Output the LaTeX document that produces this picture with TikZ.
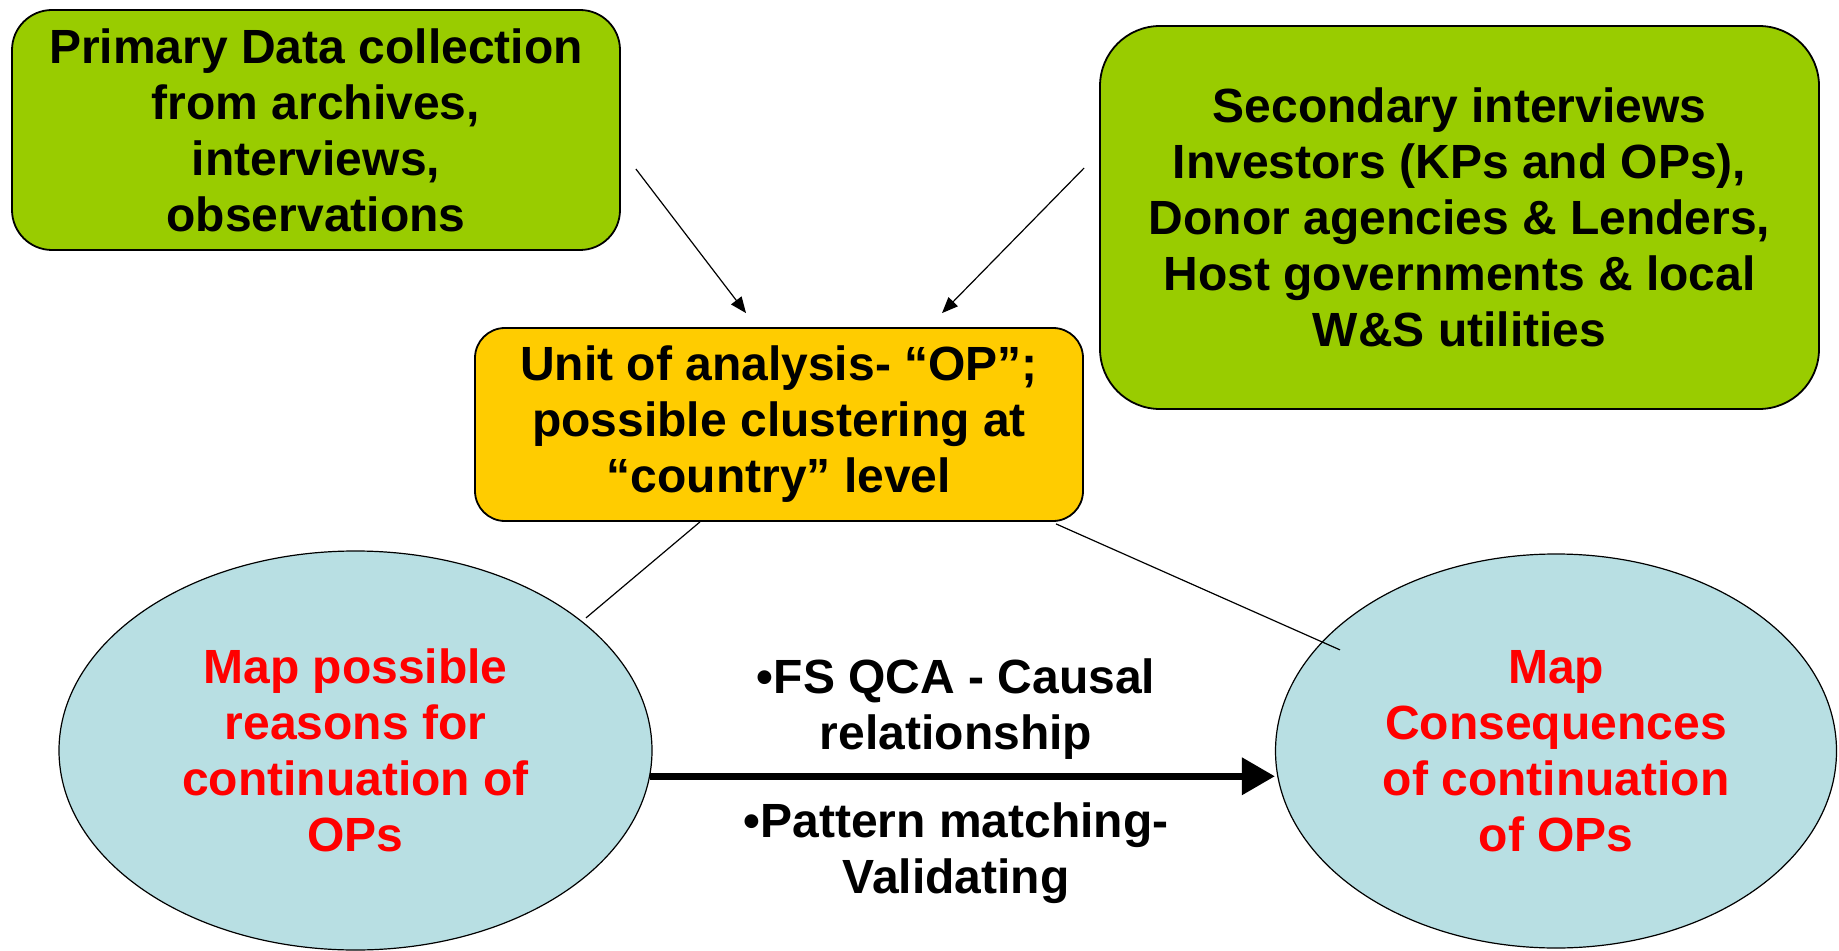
\documentclass[tikz,border=0pt]{standalone}
\usepackage{fontspec}
\setmainfont{Liberation Sans}
\usetikzlibrary{positioning}
\usetikzlibrary{shapes.geometric}
\usetikzlibrary{arrows.meta}
\usetikzlibrary{calc}

\definecolor{srcgreen}{RGB}{153,204,0}
\definecolor{unityellow}{RGB}{255,204,0}
\definecolor{mapblue}{RGB}{184,223,227}

\begin{document}
\begin{tikzpicture}[x=0.5pt,y=-0.5pt,
  every node/.style={font=\fontsize{24}{28}\selectfont\bfseries, align=center, inner sep=0pt},
  source/.style={draw, line width=0.9pt, fill=srcgreen, rounded corners=20pt},
  unitbox/.style={draw, line width=0.9pt, fill=unityellow, rounded corners=15pt},
  mapnode/.style={ellipse, draw, line width=0.6pt, fill=mapblue, text=red},
  feed/.style={-{Triangle[length=8pt,width=6.5pt]}, line width=0.6pt},
  link/.style={line width=0.6pt},
  flow/.style={-{Triangle[length=16.5pt,width=18pt]}, line width=3.4pt}]
\useasboundingbox (0,0) rectangle (1839,951);

\node (prim) [source, minimum width=304pt, minimum height=120pt] at (316,130)
  {Primary Data collection\\from archives,\\interviews,\\observations};
\node (sec) [source, rounded corners=30pt, minimum width=359.5pt, minimum height=191.5pt] at (1459.5,217.5)
  {Secondary interviews\\Investors (KPs and OPs),\\Donor agencies \& Lenders,\\Host governments \& local\\W\&S utilities};
\node (unit) [unitbox, minimum width=304pt, minimum height=96.5pt] at (779,424.5)
  {\fontsize{24}{29}\selectfont Unit of analysis- “OP”;\\possible clustering at\\“country” level};
\node (lft) [mapnode, minimum width=296.5pt, minimum height=199.5pt] at (355.5,750.5)
  {Map possible\\reasons for\\continuation of\\OPs};
\node (rgt) [mapnode, minimum width=280.5pt, minimum height=197pt] at (1556,751)
  {Map\\Consequences\\of continuation\\of OPs};

\draw[feed] ($(prim.east)+(15,39)$) -- ($(unit.north)+(-33,-14)$);
\draw[feed] ($(sec.west)+(-15,-49.5)$) -- ($(unit.north)+(163,-14)$);
\draw[link] ($(unit.south)+(-79,0)$) -- ($(unit.south)+(-193,96)$);
\draw[link] ($(unit.south)+(277,2)$) -- ($(unit.south)+(561,128)$);

\draw[flow] (lft.-5) -- (lft.-5 -| rgt.west);
\node (qca) at (956,709) {•FS QCA - Causal\\relationship};
\node (pat) at (956,853) {•Pattern matching-\\Validating};
\end{tikzpicture}
\end{document}
